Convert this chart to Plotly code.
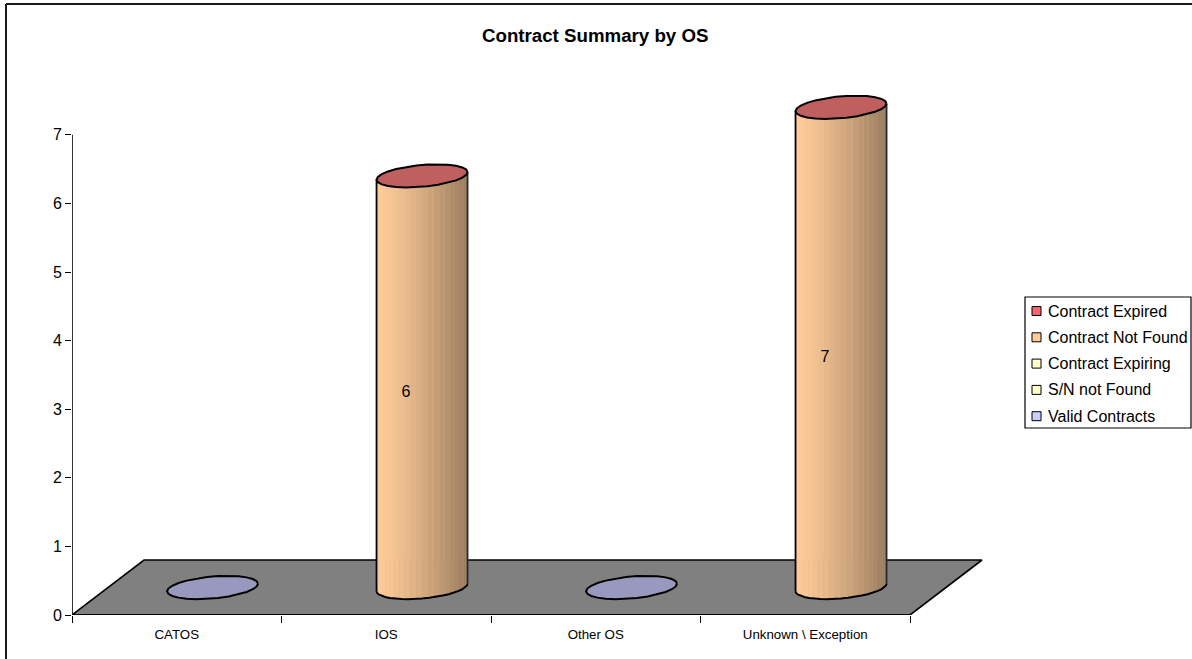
import math
import plotly.graph_objects as go

# ---- data ----
categories = ["CATOS", "IOS", "Other OS", "Unknown \\ Exception"]
contract_expired = [0, 0, 0, 0]
contract_not_found = [0, 6, 0, 7]
contract_expiring = [0, 0, 0, 0]
sn_not_found = [0, 0, 0, 0]
valid_contracts = [0, 0, 0, 0]
series_names = ["Contract Expired", "Contract Not Found", "Contract Expiring",
                "S/N not Found", "Valid Contracts"]
series_colors = ["#F4666F", "#FFCC99", "#FFFFCC", "#FFFFCC", "#CCCCFF"]
y_ticks = [0, 1, 2, 3, 4, 5, 6, 7]
title_text = "Contract Summary by OS"

# ---- layout in pixels ----
W, H = 1192, 659
PX, PY = 209.5, 68.6          # pixels per category / per value unit
X0, Y0 = 72, 615              # origin of axes
PLOT_R, PLOT_T = 996, 85
x_max = (PLOT_R - X0) / PX
y_max = (Y0 - PLOT_T) / PY
DX, DY = 72 / PX, 55 / PY     # floor depth
RX, RY, SK = 45.5 / PX, 11.0 / PY, 3.8 / PY  # ellipse radii and skew
FONT = "Liberation Sans, Arial, sans-serif"

fig = go.Figure()


def ring(cx, cy, n=26):
    pts = []
    for k in range(n + 1):
        t = 2 * math.pi * k / n
        pts.append((cx + RX * math.cos(t), cy + RY * math.sin(t) + SK * math.cos(t)))
    return [p[0] for p in pts], [p[1] for p in pts]


def poly(xs, ys, fill, line=None, width=0):
    fig.add_trace(go.Scatter(
        x=xs, y=ys, mode="lines", fill="toself", fillcolor=fill,
        line=dict(color=line or fill, width=width if line else 0.6),
        hoverinfo="skip", showlegend=False, cliponaxis=False))


def lerp(c1, c2, f):
    return tuple(round(a + (b - a) * f) for a, b in zip(c1, c2))


def rgb(c):
    return "rgb(%d,%d,%d)" % c


# floor
poly([0, 4, 4 + DX, DX, 0], [0, 0, DY, DY, 0], "#808080", "#000000", 1.6)

# axes lines
fig.add_trace(go.Scatter(x=[0, 0], y=[0, 7], mode="lines", line=dict(color="#000", width=1.6),
                         hoverinfo="skip", showlegend=False, cliponaxis=False))
fig.add_trace(go.Scatter(x=[0, 4], y=[0, 0], mode="lines", line=dict(color="#000", width=1.8),
                         hoverinfo="skip", showlegend=False, cliponaxis=False))

# cylinders
N_STRIPS = 24
light, dark = (255, 204, 153), (150, 122, 92)
for i, cat in enumerate(categories):
    total = (contract_expired[i] + contract_not_found[i] + contract_expiring[i]
             + sn_not_found[i] + valid_contracts[i])
    cx, cy = i + 0.5 + DX / 2 - 0.001, DY / 2
    if total > 0:
        h = contract_not_found[i]
        for s in range(N_STRIPS):
            t0 = math.pi - math.pi * s / N_STRIPS
            t1 = math.pi - math.pi * (s + 1) / N_STRIPS
            xa, xb = cx + RX * math.cos(t0), cx + RX * math.cos(t1)
            ya = cy - RY * math.sin(t0) + SK * math.cos(t0)
            yb = cy - RY * math.sin(t1) + SK * math.cos(t1)
            f = min(1, max(0, (xa - (cx - RX)) / (2 * RX))) ** 1.25
            col = lerp(light, dark, f)
            poly([xa, xb, xb, xa, xa], [ya, yb, yb + h, ya + h, ya], rgb(col))
            if f > 0.45:
                # pale seam between strips on the shaded side
                seam = lerp(col, (255, 235, 210), 0.28)
                fig.add_trace(go.Scatter(x=[xb, xb], y=[yb, yb + h], mode="lines",
                                         line=dict(color=rgb(seam), width=0.8), hoverinfo="skip",
                                         showlegend=False, cliponaxis=False))
        xl, xr = cx - RX, cx + RX
        fig.add_trace(go.Scatter(x=[xl, xl], y=[cy - SK, cy - SK + h], mode="lines",
                                 line=dict(color="#000", width=1.8), hoverinfo="skip",
                                 showlegend=False, cliponaxis=False))
        fig.add_trace(go.Scatter(x=[xr, xr], y=[cy + SK, cy + SK + h], mode="lines",
                                 line=dict(color="#2a2a2a", width=1.8), hoverinfo="skip",
                                 showlegend=False, cliponaxis=False))
        n = 20
        bx = [cx + RX * math.cos(math.pi - math.pi * k / n) for k in range(n + 1)]
        by = [cy - RY * math.sin(math.pi - math.pi * k / n) + SK * math.cos(math.pi - math.pi * k / n)
              for k in range(n + 1)]
        fig.add_trace(go.Scatter(x=bx, y=by, mode="lines", line=dict(color="#000", width=2),
                                 hoverinfo="skip", showlegend=False, cliponaxis=False))
        rx, ry = ring(cx, cy + h)
        poly(rx, ry, "#C05F60", "#000000", 2)
        fig.add_trace(go.Scatter(
            x=[cx - 16 / PX], y=[h / 2 + 16.5 / PY], mode="text", text=[str(h)],
            textfont=dict(family=FONT, size=16, color="#000"),
            hoverinfo="skip", showlegend=False, cliponaxis=False))
    else:
        rx, ry = ring(cx, cy)
        poly(rx, ry, "#9999C0", "#000000", 2)

lx0, lx1, ly0, ly1 = 1025, 1191, 297, 428


def px_x(v):
    return (v - X0) / (PLOT_R - X0)


def px_y(v):
    return (Y0 - v) / (Y0 - PLOT_T)


shapes = [
    dict(type="line", xref="paper", yref="paper", x0=px_x(6), x1=px_x(6), y0=px_y(4), y1=px_y(660),
         line=dict(color="#1a1a1a", width=2)),
    dict(type="line", xref="paper", yref="paper", x0=px_x(6), x1=px_x(1192), y0=px_y(4), y1=px_y(4),
         line=dict(color="#1a1a1a", width=2)),
    dict(type="rect", xref="paper", yref="paper", x0=px_x(lx0), x1=px_x(lx1), y0=px_y(ly1), y1=px_y(ly0),
         line=dict(color="#000", width=1.2), fillcolor="#fff"),
]
annots = [dict(text="<b>%s</b>" % title_text, xref="paper", yref="paper", x=px_x(595), y=px_y(35),
               xanchor="center", yanchor="middle", showarrow=False,
               font=dict(family=FONT, size=18.7, color="#000"))]
for k, (name, col) in enumerate(zip(series_names, series_colors)):
    yc = 311 + 26.3 * k
    shapes.append(dict(type="rect", xref="paper", yref="paper",
                       x0=px_x(1032), x1=px_x(1041), y0=px_y(yc + 4.5), y1=px_y(yc - 4.5),
                       line=dict(color="#000", width=1), fillcolor=col))
    annots.append(dict(text=name, xref="paper", yref="paper", x=px_x(1045.5), y=px_y(yc),
                       xanchor="left", yanchor="middle", showarrow=False, align="left",
                       font=dict(family=FONT, size=16, color="#000")))

fig.update_layout(
    width=W, height=H, autosize=False,
    margin=dict(l=X0, r=W - PLOT_R, t=PLOT_T, b=H - Y0, pad=0),
    paper_bgcolor="#fff", plot_bgcolor="#fff", showlegend=False,
    shapes=shapes, annotations=annots,
    xaxis=dict(range=[0, x_max], tickmode="array", tickvals=[i + 0.5 for i in range(len(categories))],
               ticktext=categories, ticks="", showgrid=False, zeroline=False, showline=False,
               tickfont=dict(family=FONT, size=13.3, color="#000"), ticklabelstandoff=10,
               minor=dict(tickmode="array", tickvals=list(range(len(categories) + 1)), ticks="outside",
                          ticklen=7, tickwidth=1.4, tickcolor="#000", showgrid=False)),
    yaxis=dict(range=[0, y_max], tickmode="array", tickvals=y_ticks, ticks="outside", ticklen=6,
               tickwidth=1.4, tickcolor="#000", showgrid=False, zeroline=False, showline=False,
               tickfont=dict(family=FONT, size=16, color="#000")),
)

fig.write_html("out.html", config=dict(displayModeBar=False, responsive=False),
               post_script="document.body.style.margin='0';document.body.style.overflow='hidden';")
